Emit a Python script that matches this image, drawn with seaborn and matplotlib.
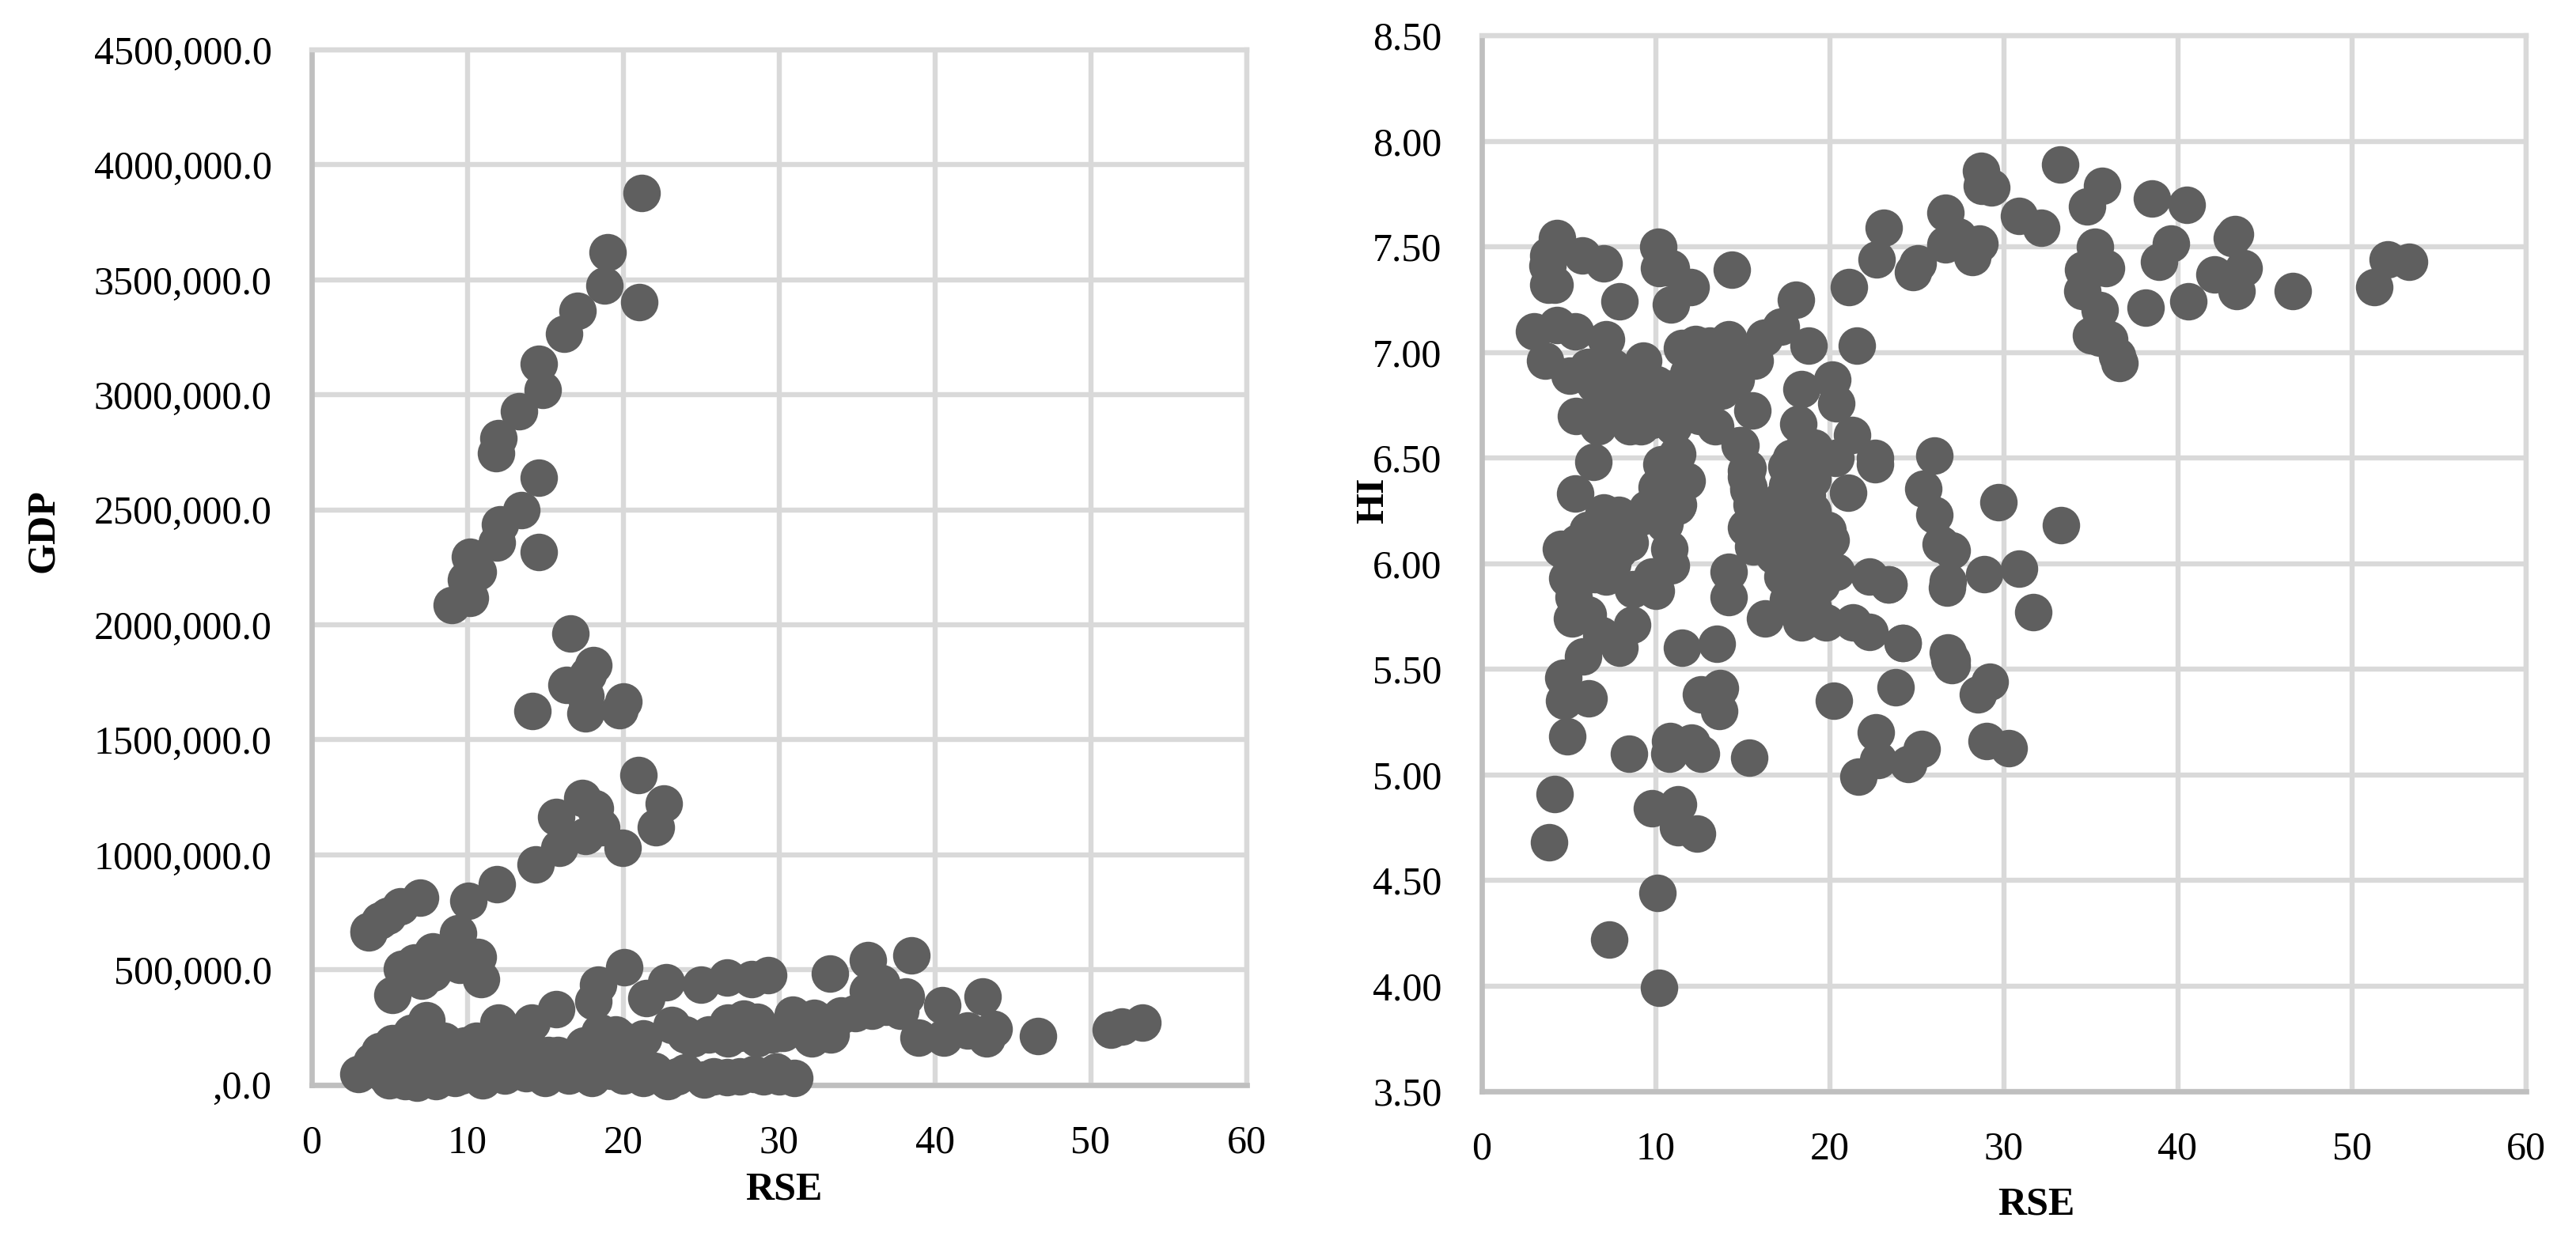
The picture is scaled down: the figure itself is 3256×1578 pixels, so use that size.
import matplotlib
matplotlib.use("Agg")
import matplotlib.pyplot as plt
import pandas as pd
import seaborn as sns

# values
gdp_rse = [
    21.2, 19.0, 18.8, 21.05, 17.1, 16.2, 14.6, 14.85, 13.3, 12.0, 11.85, 14.6, 13.5, 12.1, 11.9, 14.6,
    10.16, 10.7, 9.9, 10.2, 9.0,
    16.6, 18.1, 17.75, 16.35, 17.6, 17.6, 20.0, 19.75, 14.2,
    21.0, 22.6, 22.1, 17.4, 18.2, 15.7, 18.6, 17.6, 15.9, 19.95, 14.4, 11.9, 10.1,
    7.0, 5.73, 4.9, 4.4, 3.7, 3.7, 9.4, 7.8, 6.6, 5.8, 5.2, 10.7, 10.9, 7.8, 9.5, 7.1,
    20.1, 21.5, 22.75, 25.0, 26.65, 28.25, 29.3, 33.25, 35.7, 38.5, 36.55, 38.15, 35.7, 34.9, 35.95, 36.9,
    38.95, 33.3, 32.1, 30.9, 32.25, 31.0, 27.75, 26.75, 28.6, 30.3, 23.1, 26.75, 28.6, 24.5, 21.3,
    22.85, 25.2, 26.7, 28.4, 29.8, 24.0, 21.3, 20.0, 20.6,
    43.05, 40.5, 40.6, 42.1, 43.3, 43.8, 46.6, 51.3, 52.0, 53.3,
    3.0, 3.9, 4.4, 5.2, 5.0, 5.8, 6.4, 6.0, 6.8, 7.4, 7.0, 7.5, 8.0, 8.5, 8.8, 9.2, 9.8, 10.2, 10.6, 11.0,
    11.2, 11.8, 12.0, 12.4, 13.0, 13.3, 13.8, 14.15, 14.6, 15.0, 15.4, 15.7, 15.8, 16.2, 16.5, 17.0, 17.5,
    18.0, 18.1, 18.4, 18.2, 18.5, 19.0, 19.2, 19.5, 20.3, 6.2, 5.5, 4.6, 9.6, 12.8,
    8.0, 9.0, 10.5, 11.5, 12.5, 13.5, 14.0, 15.0, 16.0, 17.2, 18.6, 19.6, 20.5, 21.0, 22.0, 23.5, 25.8,
    27.5, 29.0, 30.0, 24.0, 25.5, 27.5, 29.5, 6.6, 7.6, 8.3, 9.1, 12.0, 15.2, 19.8, 21.8, 22.6, 31.8, 34.0,
    37.8,
]
gdp_vals = [
    3877, 3620, 3474, 3404, 3365, 3267, 3133, 3022, 2927, 2812, 2747, 2638, 2500, 2438, 2358, 2316,
    2295, 2230, 2195, 2116, 2087,
    1963, 1825, 1782, 1738, 1690, 1615, 1665, 1627, 1625,
    1348, 1223, 1118, 1248, 1202, 1164, 1118, 1082, 1030, 1030, 958, 871, 798,
    812, 775, 735, 715, 662, 670, 658, 578, 533, 505, 390, 555, 460, 487, 520, 453,
    510, 376, 444, 436, 467, 459, 478, 482, 542, 564, 441, 384, 407, 310, 321, 338,
    206, 218, 201, 304, 292, 29, 287, 270, 275, 224, 258, 200, 200, 200, 200,
    17, 23, 34, 46, 57, 52, 29, 40, 97,
    382, 344, 206, 235, 200, 241, 212, 238, 252, 270,
    48, 100, 145, 180, 20, 60, 225, 15, 10, 282, 130, 60, 15, 190, 100, 30, 170, 100, 190, 20,
    90, 150, 270, 40, 100, 200, 50, 270, 130, 30, 80, 327, 130, 120, 40, 90, 170,
    30, 362, 436, 100, 230, 170, 60, 220, 130, 110, 130, 50, 40, 190,
    80, 140, 60, 150, 110, 60, 160, 100, 80, 60, 130, 100, 160, 90, 60, 35, 35,
    35, 35, 35, 220, 220, 225, 220, 170, 190, 100, 40, 180, 130, 200, 60, 30, 260, 300,
    320,
]

hi_rse = [
    28.7, 28.76, 29.3, 33.27, 35.67, 34.8, 38.5, 40.5, 43.3, 43.1, 39.6, 38.95, 43.8, 42.1, 43.4, 46.6,
    52.05, 53.3, 51.3, 35.26, 34.55, 35.87, 34.5, 35.5, 38.16, 40.6, 35.0, 36.07, 35.5, 36.5, 36.64,
    26.67, 27.4, 26.67, 28.6, 28.2, 24.8, 25.05, 23.1, 22.7, 30.9, 32.15,
    26.0, 22.6, 25.4, 29.7, 33.3, 26.0, 26.4, 27.0, 26.8, 26.73, 28.9, 30.9, 31.7, 23.4, 24.2, 26.8, 27.0,
    4.33, 3.83, 3.8, 3.83, 4.2, 5.8, 7.0, 7.95, 10.15, 10.2, 10.9, 12.0, 10.9, 14.4, 18.05, 21.1, 17.2, 16.25,
    3.0, 4.33, 5.4, 7.17, 3.68, 5.05, 9.3, 6.1, 7.5, 8.4, 10.05, 11.5, 12.3, 14.2, 13.1, 15.7, 14.7, 13.1,
    11.9, 11.0, 14.6, 18.8, 21.55, 20.15, 18.4, 20.4, 18.2, 21.3, 22.6, 19.1, 20.35, 21.07, 17.8, 17.5,
    18.7, 17.55, 15.55, 13.45, 14.9, 15.3, 15.35, 15.2, 5.45, 6.7, 6.44, 5.38, 9.15, 7.9, 10.05, 11.55, 6.9,
    11.26, 10.35, 11.8, 10.05, 11.26, 11.26, 10.65, 7.0, 8.0, 9.1,
    7.03, 7.9, 9.5, 11.3, 10.5, 8.2, 6.1, 4.55, 6.9, 7.9, 5.86, 7.15, 4.95, 5.3, 10.8, 10.9, 9.8, 10.0, 8.7,
    5.2, 6.1, 8.67, 6.9, 7.94, 5.86, 11.5, 13.5, 4.7, 4.74, 6.17, 4.95, 12.6, 13.7, 13.67, 15.4, 10.86, 10.8,
    12.05, 12.6, 8.46, 4.2, 3.9, 9.8, 11.3, 11.3, 12.4, 10.1, 7.34, 10.2,
    14.2, 14.2, 15.2, 14.85, 15.36, 15.5, 15.2, 15.6, 16.3, 18.4, 18.6, 18.4, 17.3, 17.3, 16.3, 16.8, 19.9,
    20.05, 18.9, 18.1, 17.3, 18.9, 20.4, 22.3, 23.4, 18.4, 17.6, 18.4, 19.8, 21.35, 22.3, 24.2, 20.26, 23.8,
    22.66, 21.67, 22.8, 24.5, 25.3, 29.0, 30.3, 28.5, 29.2, 26.9, 27.0,
    6.5, 7.0, 8.0, 8.8, 9.5, 10.5, 12.0, 12.8, 13.8, 8.5, 9.8, 11.0, 12.5, 6.5, 7.5, 8.5, 6.0, 5.5, 6.5, 5.5,
    17.0, 18.0, 19.0, 17.8, 18.8, 19.5, 18.0, 19.0, 19.3, 17.2, 18.0, 19.0, 16.5, 16.0, 19.0, 18.5,
]
hi_vals = [
    7.86, 7.79, 7.78, 7.89, 7.79, 7.69, 7.73, 7.70, 7.56, 7.54, 7.515, 7.43, 7.40, 7.37, 7.29, 7.29,
    7.44, 7.43, 7.31, 7.50, 7.39, 7.40, 7.29, 7.20, 7.21, 7.24, 7.08, 7.06, 7.07, 6.985, 6.95,
    7.66, 7.55, 7.51, 7.515, 7.45, 7.38, 7.42, 7.59, 7.44, 7.645, 7.59,
    6.51, 6.47, 6.355, 6.29, 6.18, 6.23, 6.09, 6.06, 5.915, 5.885, 5.95, 5.975, 5.77, 5.90, 5.625, 5.58, 5.54,
    7.54, 7.46, 7.41, 7.32, 7.32, 7.46, 7.42, 7.24, 7.50, 7.40, 7.40, 7.31, 7.225, 7.39, 7.25, 7.31, 7.12, 7.07,
    7.10, 7.13, 7.10, 7.06, 6.96, 6.89, 6.96, 6.93, 6.93, 6.87, 6.85, 7.02, 7.04, 7.06, 7.03, 6.96, 6.91, 6.93,
    6.90, 6.83, 6.87, 7.03, 7.03, 6.87, 6.825, 6.76, 6.66, 6.61, 6.50, 6.55, 6.50, 6.335, 6.50, 6.46,
    6.32, 6.37, 6.725, 6.65, 6.56, 6.45, 6.35, 6.41, 6.70, 6.65, 6.48, 6.33, 6.65, 6.75, 6.72, 6.72, 6.77,
    6.52, 6.47, 6.39, 6.36, 6.41, 6.27, 6.25, 6.24, 6.22, 6.22,
    6.21, 6.23, 6.26, 6.28, 6.19, 6.13, 6.16, 6.07, 6.04, 6.06, 5.94, 5.94, 5.93, 5.84, 6.07, 5.99, 5.94, 5.87, 5.88,
    5.74, 5.76, 5.71, 5.66, 5.60, 5.56, 5.60, 5.62, 5.46, 5.35, 5.36, 5.18, 5.38, 5.41, 5.30, 5.08, 5.16, 5.10,
    5.15, 5.10, 5.10, 4.91, 4.68, 4.84, 4.86, 4.75, 4.72, 4.44, 4.22, 3.99,
    5.96, 5.84, 6.44, 6.56, 6.36, 6.28, 6.17, 6.08, 5.74, 6.44, 6.32, 6.21, 6.24, 6.13, 6.24, 6.04, 6.16,
    6.11, 6.04, 5.94, 5.94, 5.88, 5.96, 5.94, 5.90, 5.84, 5.83, 5.72, 5.72, 5.72, 5.675, 5.625, 5.35, 5.415,
    5.20, 4.99, 5.07, 5.05, 5.12, 5.16, 5.125, 5.38, 5.44, 5.54, 5.52,
    6.85, 6.80, 6.80, 6.78, 6.78, 6.78, 6.80, 6.80, 6.82, 6.65, 6.68, 6.65, 6.70, 6.10, 6.00, 6.10, 6.05, 6.10, 5.95, 5.95,
    6.10, 6.10, 6.10, 6.00, 5.95, 5.90, 5.80, 5.80, 6.05, 6.30, 6.20, 6.25, 6.10, 6.15, 6.40, 6.55,
]

x_ticks = [0, 10, 20, 30, 40, 50, 60]
gdp_ticks = [0, 500, 1000, 1500, 2000, 2500, 3000, 3500, 4000, 4500]
gdp_labels = [",0.0", "500,000.0", "1000,000.0", "1500,000.0", "2000,000.0", "2500,000.0",
              "3000,000.0", "3500,000.0", "4000,000.0", "4500,000.0"]
hi_ticks = [3.5, 4.0, 4.5, 5.0, 5.5, 6.0, 6.5, 7.0, 7.5, 8.0, 8.5]

W, H = 3256, 1578
GRID = "#d9d9d9"
AXIS = "#bfbfbf"
DOT = "#5f5f5f"

sns.set_style("white")
plt.rcParams['font.family'] = ['Liberation Serif', 'DejaVu Serif']
plt.rcParams['font.size'] = 18


def draw_panel(ax, x, y, ylabel, yticks, ylabels, xlabel_pos, ylabel_pos):
    df = pd.DataFrame({'rse': x, 'val': y})
    sns.scatterplot(data=df, x='rse', y='val', ax=ax, s=292, color=DOT, linewidth=0,
                    clip_on=False, zorder=5)
    ax.set_xlim(0, 60)
    ax.set_ylim(yticks[0], yticks[-1])
    ax.set_xticks(x_ticks)
    ax.set_yticks(yticks)
    ax.set_yticklabels(ylabels)
    ax.grid(True, color=GRID, linewidth=2.3)
    ax.set_axisbelow(True)
    ax.tick_params(length=0, labelsize=18, pad=18, colors='black')
    for side in ['left', 'bottom']:
        ax.spines[side].set_color(AXIS)
        ax.spines[side].set_linewidth(2.4)
    for side in ['top', 'right']:
        ax.spines[side].set_color(GRID)
        ax.spines[side].set_linewidth(2.3)
    ax.set_xlabel('RSE', fontweight='bold', fontsize=18, color='black')
    ax.set_ylabel(ylabel, fontweight='bold', fontsize=18, color='black')
    ax.xaxis.set_label_coords(*xlabel_pos)
    ax.yaxis.set_label_coords(*ylabel_pos)


fig = plt.figure(figsize=(W / 200, H / 200), dpi=200, facecolor='white')
ax_left = fig.add_axes([393.5 / W, 1 - 1371.5 / H, 1182 / W, 1308.5 / H])
ax_right = fig.add_axes([1872.5 / W, 1 - 1380 / H, 1320 / W, 1335 / H])

draw_panel(ax_left, gdp_rse, gdp_vals, 'GDP', gdp_ticks, gdp_labels, (0.505, -0.084), (-0.267, 0.535))
draw_panel(ax_right, hi_rse, hi_vals, 'HI', hi_ticks, [f"{v:.2f}" for v in hi_ticks], (0.531, -0.09), (-0.086, 0.56))

fig.savefig('out.png', dpi=200, facecolor='white')
plt.close(fig)
